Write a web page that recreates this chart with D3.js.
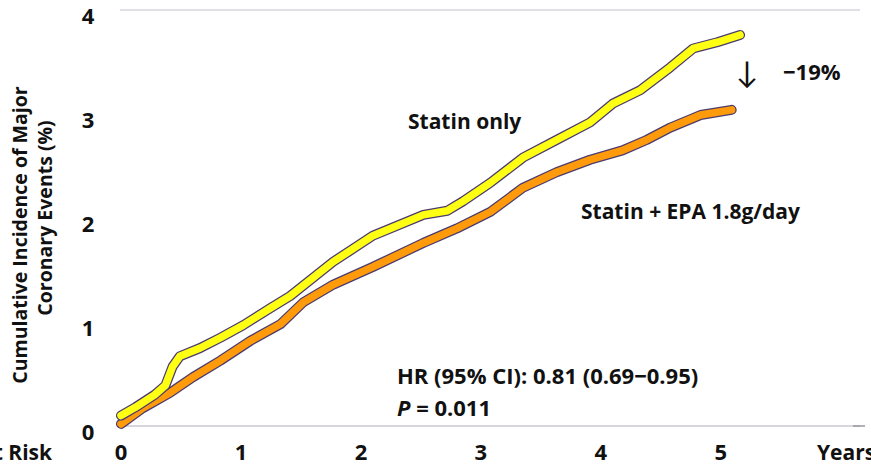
<!DOCTYPE html>
<html>
<head>
<meta charset="utf-8">
<script src="https://cdn.jsdelivr.net/npm/d3@7"></script>
<style>
  body { margin: 0; background: #fff; }
  svg { display: block; font-family: "Open Sans", Lato, sans-serif; font-weight: 700; }
</style>
</head>
<body>
<div id="chart"></div>
<script>
const WIDTH = 871, HEIGHT = 467;

// (years, cumulative %)
const statinOnly = [
  [0, 0.10], [0.12, 0.18], [0.28, 0.30], [0.37, 0.39], [0.43, 0.57], [0.49, 0.67],
  [0.66, 0.75], [0.83, 0.85], [1.02, 0.97], [1.24, 1.13], [1.41, 1.25], [1.77, 1.58],
  [2.10, 1.83], [2.52, 2.03], [2.72, 2.07], [2.85, 2.16], [3.08, 2.34], [3.35, 2.58],
  [3.63, 2.75], [3.91, 2.92], [4.10, 3.10], [4.33, 3.23], [4.58, 3.45], [4.77, 3.63],
  [4.97, 3.69], [5.16, 3.76]
];
const statinEpa = [
  [0, 0.02], [0.18, 0.17], [0.41, 0.32], [0.60, 0.47], [0.83, 0.63], [1.08, 0.82],
  [1.33, 0.98], [1.52, 1.19], [1.77, 1.36], [2.10, 1.53], [2.52, 1.76], [2.80, 1.90],
  [3.08, 2.06], [3.35, 2.29], [3.63, 2.44], [3.91, 2.56], [4.18, 2.65], [4.38, 2.75],
  [4.58, 2.87], [4.83, 2.99], [5.09, 3.04]
];
const xTicks = [0, 1, 2, 3, 4, 5];
const yTicks = [0, 1, 2, 3, 4];

const x = d3.scaleLinear().domain([0, 6.16]).range([121, 860]);
const y = d3.scaleLinear().domain([0, 4]).range([426, 10]);

const svg = d3.select("#chart").append("svg")
  .attr("width", WIDTH).attr("height", HEIGHT);

// grid lines (top and baseline)
svg.append("line").attr("x1", 120).attr("x2", 860)
  .attr("y1", y(4)).attr("y2", y(4)).attr("stroke", "#d4d4dc").attr("stroke-width", 1.5);
svg.append("line").attr("x1", 120).attr("x2", 860)
  .attr("y1", y(0)).attr("y2", y(0)).attr("stroke", "#c8c8d4").attr("stroke-width", 1.5);
svg.append("line").attr("x1", 853).attr("x2", 865)
  .attr("y1", y(0)).attr("y2", y(0)).attr("stroke", "#999").attr("stroke-width", 1.5);

// y tick labels
svg.append("g").selectAll("text").data(yTicks).enter().append("text")
  .attr("x", 88).attr("y", d => y(d) + 14)
  .attr("text-anchor", "middle").attr("font-size", 22).attr("fill", "#111")
  .text(d => d);

// x tick labels
svg.append("g").selectAll("text").data(xTicks).enter().append("text")
  .attr("x", d => x(d)).attr("y", 460)
  .attr("text-anchor", "middle").attr("font-size", 22).attr("fill", "#111")
  .text(d => d);

svg.append("text").attr("x", 52).attr("y", 460).attr("text-anchor", "end")
  .attr("font-size", 21).attr("fill", "#111").text("At Risk");
svg.append("text").attr("x", 817).attr("y", 460)
  .attr("font-size", 21).attr("fill", "#111").text("Years");

// y axis title
const yt = svg.append("text").attr("transform", "translate(0,232) rotate(-90)")
  .attr("text-anchor", "middle").attr("font-size", 19.5).attr("fill", "#111");
yt.append("tspan").attr("x", -3).attr("y", 27).text("Cumulative Incidence of Major");
yt.append("tspan").attr("x", 14).attr("y", 52).text("Coronary Events (%)");

// curves: dark outline then colour
const line = d3.line().x(d => x(d[0])).y(d => y(d[1])).curve(d3.curveLinear);
[[statinEpa, "#ff9a0a"], [statinOnly, "#ffff14"]].forEach(([data, col]) => {
  svg.append("path").datum(data).attr("d", line)
    .attr("fill", "none").attr("stroke", "#4b3b6e").attr("stroke-width", 10)
    .attr("stroke-linejoin", "round").attr("stroke-linecap", "round");
  svg.append("path").datum(data).attr("d", line)
    .attr("fill", "none").attr("stroke", col).attr("stroke-width", 7.5)
    .attr("stroke-linejoin", "round").attr("stroke-linecap", "round");
});

// annotations
svg.append("text").attr("x", 408).attr("y", 129).attr("font-size", 21)
  .attr("fill", "#111").text("Statin only");
svg.append("text").attr("x", 581).attr("y", 219).attr("font-size", 21)
  .attr("fill", "#111").text("Statin + EPA 1.8g/day");
svg.append("text").attr("x", 747).attr("y", 83).attr("text-anchor", "middle")
  .attr("font-size", 30).attr("font-weight", 400).attr("fill", "#111").text("↓");
svg.append("text").attr("x", 783).attr("y", 80).attr("font-size", 22)
  .attr("fill", "#111").text("\u221219%");
svg.append("text").attr("x", 397).attr("y", 384).attr("font-size", 22)
  .attr("fill", "#111").text("HR (95% CI): 0.81 (0.69\u22120.95)");
const p = svg.append("text").attr("x", 397).attr("y", 416).attr("font-size", 22)
  .attr("fill", "#111");
p.append("tspan").attr("font-style", "italic").text("P");
p.append("tspan").text(" = 0.011");
</script>
</body>
</html>
